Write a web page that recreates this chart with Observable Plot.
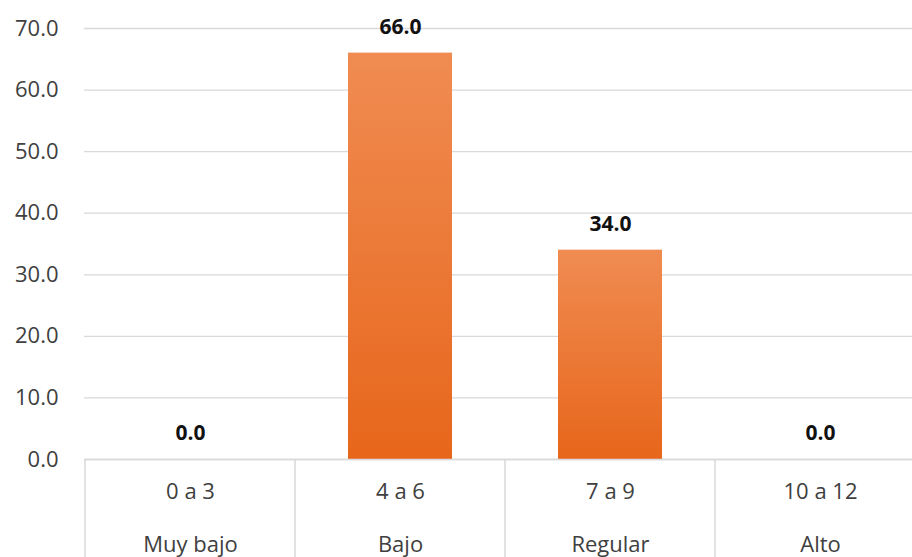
<!DOCTYPE html>
<html><head><meta charset="utf-8">
<script src="https://cdn.jsdelivr.net/npm/d3@7"></script>
<script src="https://cdn.jsdelivr.net/npm/@observablehq/plot@0.6"></script>
<style>body{margin:0;background:#fff}</style>
</head><body><div id="chart"></div>
<script>
const ranges = ["0 a 3", "4 a 6", "7 a 9", "10 a 12"];
const levels = ["Muy bajo", "Bajo", "Regular", "Alto"];
const values = [0.0, 66.0, 34.0, 0.0];
const yTicks = [0, 10, 20, 30, 40, 50, 60, 70];

const data = ranges.map((r, i) => ({range: r, level: levels[i], value: values[i]}));
const FONT = "'Open Sans', sans-serif";

const plot = Plot.plot({
  width: 912, height: 557,
  marginLeft: 84, marginRight: 0, marginTop: 28, marginBottom: 98,
  style: {fontFamily: FONT, fontSize: "22px", color: "#404040", background: "#fff"},
  x: {domain: ranges, padding: 0, label: null, range: [84, 926]},
  y: {domain: [0, 70], ticks: yTicks, label: null, tickFormat: d3.format(".1f")},
  marks: [
    () => {
      const ns = "http://www.w3.org/2000/svg";
      const defs = document.createElementNS(ns, "defs");
      defs.innerHTML = `<linearGradient id="barGrad" x1="0" y1="0" x2="0" y2="1">
        <stop offset="0" stop-color="#F08C52"/><stop offset="1" stop-color="#E7661B"/></linearGradient>`;
      return defs;
    },
    Plot.gridY(yTicks, {stroke: "#d9d9d9", strokeOpacity: 1, strokeWidth: 1.3}),
    Plot.axisY(yTicks, {tickSize: 0, tickPadding: 26, fontSize: 22, fill: "#404040", tickFormat: d3.format(".1f")}),
    Plot.barY(data, {x: "range", y: "value", fill: "url(#barGrad)", insetLeft: 53, insetRight: 53}),
    Plot.ruleY([0], {stroke: "#d9d9d9", strokeWidth: 1.5}),
    Plot.text(data, {x: "range", y: "value", text: d => d3.format(".1f")(d.value), dy: -26, fontWeight: "bold", fontSize: 21, fill: "#111"}),
    (index, scales, values2, dims) => {
      const ns = "http://www.w3.org/2000/svg";
      const g = document.createElementNS(ns, "g");
      const step = scales.x(ranges[1]) - scales.x(ranges[0]);
      const edges = ranges.map(r => scales.x(r)).concat([scales.x(ranges[ranges.length - 1]) + step]);
      const y0 = scales.y(0);
      for (const ex of edges) {
        const l = document.createElementNS(ns, "line");
        l.setAttribute("x1", ex); l.setAttribute("x2", ex);
        l.setAttribute("y1", y0); l.setAttribute("y2", dims.height);
        l.setAttribute("stroke", "#d9d9d9"); l.setAttribute("stroke-width", 1.5);
        g.appendChild(l);
      }
      return g;
    },
    Plot.axisX({tickSize: 0, tickPadding: 24, fontSize: 22, fill: "#404040", label: null}),
    Plot.axisX({tickSize: 0, tickPadding: 77, fontSize: 22, fill: "#404040", label: null,
      tickFormat: d => levels[ranges.indexOf(d)]})
  ]
});
document.getElementById("chart").appendChild(plot);
</script>
</body></html>
